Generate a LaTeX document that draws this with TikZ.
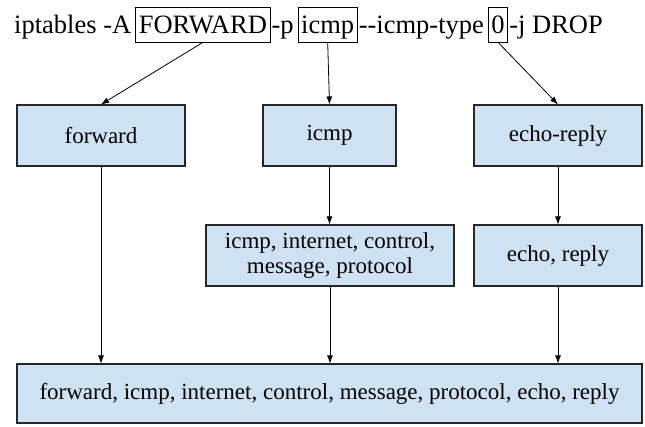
\documentclass[tikz,border=0pt]{standalone}
\usepackage{fontspec}
\setmainfont{Liberation Serif}
\usetikzlibrary{arrows.meta}
\definecolor{termblue}{HTML}{CFE2F3}

\begin{document}
\begin{tikzpicture}[x=1pt, y=-1pt,
		word/.style={inner sep=0pt, anchor=base west, font=\fontsize{26.5}{30}\selectfont},
		wordbox/.style={word, draw, line width=0.8pt, inner xsep=3pt, inner ysep=4pt, text height=22pt, text depth=5pt},
		term/.style={draw=black!85, fill=termblue, line width=1.1pt, minimum height=61pt, align=center, font=\fontsize{23}{25}\selectfont},
		link/.style={-{Latex[length=8pt,width=6pt]}, line width=0.8pt}]
		%%%%% START %%%%%
		\useasboundingbox (0,0) rectangle (645,426);
		
		% the rule, word by word
		\node[word] (cmd) at (14,33) {iptables -A};
		\node[wordbox, xshift=4pt] (chain) at (cmd.base east) {FORWARD};
		\node[word, xshift=1pt] (popt) at (chain.base east) {-p};
		\node[wordbox, xshift=4pt] (proto) at (popt.base east) {icmp};
		\node[word, xshift=1pt] (topt) at (proto.base east) {-\kern0pt-icmp-type};
		\node[wordbox, xshift=4pt] (code) at (topt.base east) {0};
		\node[word, xshift=1pt] (target) at (code.base east) {-j DROP};
		
		% terms
		\node[term, minimum width=168pt] (fwdterm) at (101,135.5) {forward};
		\node[term, minimum width=133pt] (icmpterm) at (329.5,135.5) {icmp};
		\node[term, minimum width=168pt] (echoterm) at (558,135.5) {echo-reply};
		
		\node[term, minimum width=248pt] (icmpwords) at (330,255.5) {icmp, internet, control,\\ message, protocol};
		\node[term, minimum width=168pt] (echowords) at (558,255.5) {echo, reply};
		
		\node[term, minimum width=625pt, minimum height=59pt] (allwords) at (329.5,393.5) {forward, icmp, internet, control, message, protocol, echo, reply};
		
		\draw[link] (chain.south) -- (fwdterm.north);
		\draw[link] (proto.south) -- (icmpterm.north);
		\draw[link] (code.south) -- (echoterm.north);
		
		\draw[link] (icmpterm.south) -- (icmpterm.south |- icmpwords.north);
		\draw[link] (echoterm.south) -- (echowords.north);
		
		\draw[link] (fwdterm.south) -- (fwdterm.south |- allwords.north);
		\draw[link] (icmpwords.south) -- (icmpwords.south |- allwords.north);
		\draw[link] (echowords.south) -- (echowords.south |- allwords.north);
		%%%%% END %%%%%
	\end{tikzpicture}
\end{document}
